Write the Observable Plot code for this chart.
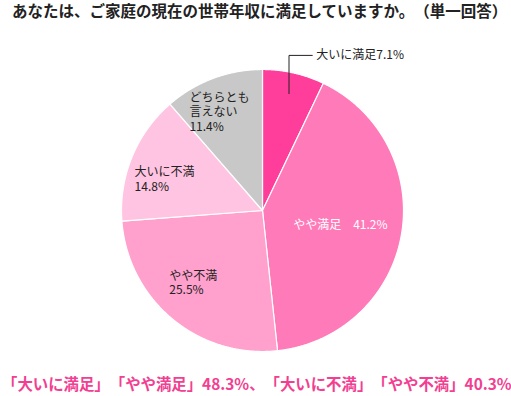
<!DOCTYPE html>
<html><head><meta charset="utf-8">
<script src="https://cdn.jsdelivr.net/npm/d3@7"></script>
<script src="https://cdn.jsdelivr.net/npm/@observablehq/plot@0.6"></script>
<style>
body{margin:0;background:#fff;font-family:"Noto Sans CJK JP",sans-serif;}
#wrap{width:511px;height:396px;position:relative;overflow:hidden}
#title,#foot{text-spacing-trim:space-all;white-space:nowrap;font-weight:700}
#title{height:34px;font-size:15.5px;color:#222;padding-left:12px;line-height:21px}
#chart{height:336px}
#foot{height:26px;font-size:15.4px;color:#f23f92;padding-left:2px;line-height:26px}
</style></head>
<body><div id="wrap"><div id="title"></div><div id="chart"></div><div id="foot"></div></div>
<script>
const categories = ["大いに満足","やや満足","やや不満","大いに不満","どちらとも言えない"];
const values = [7.1, 41.2, 25.5, 14.8, 11.4];
const labelLines = [["大いに満足7.1%"], ["やや満足　41.2%"], ["やや不満","25.5%"], ["大いに不満","14.8%"], ["どちらとも","言えない","11.4%"]];
const colors = ["#ff3d9a","#ff7ab9","#ffa0cd","#ffc4e1","#c8c8c8"];
const titleText = "あなたは、ご家庭の現在の世帯年収に満足していますか。（単一回答）";
const footerText = "「大いに満足」「やや満足」48.3%、「大いに不満」「やや不満」40.3%";

document.getElementById("title").textContent = titleText;
document.getElementById("foot").textContent = footerText;

const W = 511, H = 336, R = 141, CX = 262, CY = 176;
const arcs = d3.pie().sort(null).value(d => d)(values);
const slicePts = [];
arcs.forEach((a, i) => {
  slicePts.push({cat: categories[i], x: 0, y: 0});
  const n = Math.max(2, Math.ceil((a.endAngle - a.startAngle) / 0.005));
  for (let k = 0; k <= n; k++) {
    const t = a.startAngle + (a.endAngle - a.startAngle) * k / n;
    slicePts.push({cat: categories[i], x: Math.sin(t), y: Math.cos(t)});
  }
});

const style = [
  null,
  {r: 0.56, anchor: "middle", dx: 0, dy: 0, fill: "white"},
  {r: 0.69, anchor: "start", dx: -31, dy: -3, fill: "#222"},
  {r: 0.72, anchor: "start", dx: -34, dy: 7, fill: "#222"},
  {r: 0.75, anchor: "start", dx: -36, dy: 0, fill: "#222"}
];
const mid = a => (a.startAngle + a.endAngle) / 2;
const labelMarks = arcs.map((a, i) => {
  if (!style[i]) return null;
  const s = style[i], m = mid(a);
  return Plot.text([{x: s.r * Math.sin(m), y: s.r * Math.cos(m), t: labelLines[i].join("\n")}], {
    x: "x", y: "y", text: "t", textAnchor: s.anchor, lineAnchor: "middle",
    dx: s.dx, dy: s.dy, fill: s.fill, fontSize: 12, lineHeight: 1.22
  });
}).filter(Boolean);

const m0 = mid(arcs[0]);
const p0 = {x: 0.85 * Math.sin(m0), y: 0.85 * Math.cos(m0)};
const leader = [p0, {x: p0.x, y: 1.1}, {x: p0.x + 0.165, y: 1.1}];

const chart = Plot.plot({
  width: W, height: H,
  margin: 0,
  x: {domain: [-CX / R, (W - CX) / R], axis: null},
  y: {domain: [-(H - CY) / R, CY / R], axis: null},
  color: {domain: categories, range: colors},
  style: {fontFamily: '"Noto Sans CJK JP", sans-serif', background: "white"},
  marks: [
    Plot.line(slicePts, {x: "x", y: "y", z: "cat", fill: "cat", stroke: "white", strokeWidth: 1.2, curve: "linear-closed"}),
    ...labelMarks,
    Plot.line(leader, {x: "x", y: "y", stroke: "#222", strokeWidth: 1}),
    Plot.text([leader[2]], {x: "x", y: "y", text: () => labelLines[0][0], textAnchor: "start", lineAnchor: "middle", dx: 4, fill: "#222", fontSize: 12})
  ]
});
document.getElementById("chart").appendChild(chart);
</script>
</body></html>
